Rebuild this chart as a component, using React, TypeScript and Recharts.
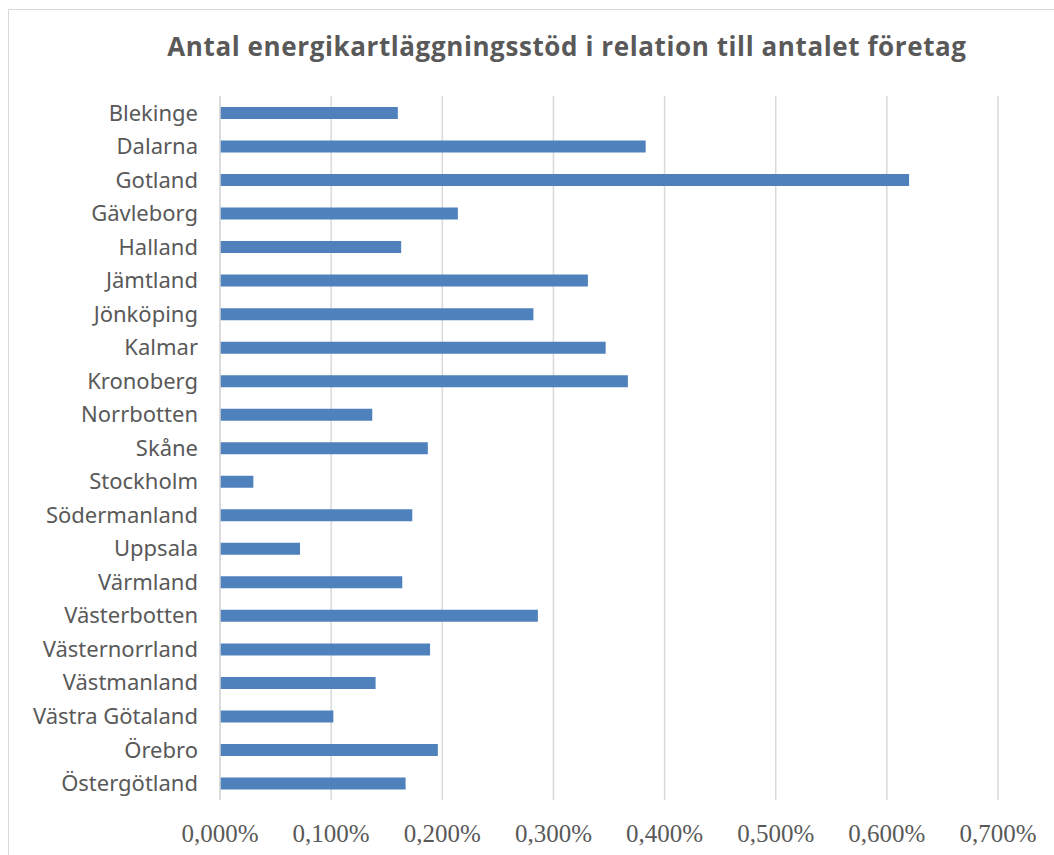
import { BarChart, Bar, XAxis, YAxis, CartesianGrid } from "recharts";

// län, in the order they appear top to bottom
const regions = [
  "Blekinge",
  "Dalarna",
  "Gotland",
  "Gävleborg",
  "Halland",
  "Jämtland",
  "Jönköping",
  "Kalmar",
  "Kronoberg",
  "Norrbotten",
  "Skåne",
  "Stockholm",
  "Södermanland",
  "Uppsala",
  "Värmland",
  "Västerbotten",
  "Västernorrland",
  "Västmanland",
  "Västra Götaland",
  "Örebro",
  "Östergötland",
];

// stöd per företag, in percent
const share = [
  0.16, 0.383, 0.62, 0.214, 0.163, 0.331, 0.282, 0.347, 0.367, 0.137, 0.187,
  0.03, 0.173, 0.072, 0.164, 0.286, 0.189, 0.14, 0.102, 0.196, 0.167,
];

const xTicks = [0, 0.1, 0.2, 0.3, 0.4, 0.5, 0.6, 0.7];

const chartData = regions.map((name, i) => ({ name, value: share[i] }));

const fmt = (v: number) => v.toFixed(3).replace(".", ",") + "%";

export default function App() {
  return (
    <div
      style={{
        position: "absolute",
        left: 0,
        top: 0,
        width: 1054,
        height: 855,
        overflow: "hidden",
        background: "#fff",
      }}
    >
      <div
        style={{
          position: "absolute",
          left: 8,
          top: 9,
          width: 1200,
          height: 1000,
          borderLeft: "1.5px solid #d9d9d9",
          borderTop: "1.5px solid #d9d9d9",
        }}
      />
      <div
        style={{
          position: "absolute",
          left: 0,
          top: 30,
          width: 1134,
          textAlign: "center",
          fontFamily: "'Open Sans'",
          fontWeight: "bold",
          fontSize: 26,
          letterSpacing: 0.6,
          lineHeight: "32px",
          color: "#595959",
        }}
      >
        Antal energikartläggningsstöd i relation till antalet företag
      </div>
      <div style={{ position: "absolute", left: 0, top: 0 }}>
        <BarChart
          width={1054}
          height={855}
          data={chartData}
          layout="vertical"
          margin={{ top: 96, right: 56, bottom: 5, left: 8 }}
        >
          <CartesianGrid horizontal={false} stroke="#d9d9d9" strokeWidth={1.5} />
          <XAxis
            type="number"
            domain={[0, 0.7]}
            ticks={xTicks}
            tickFormatter={fmt}
            axisLine={false}
            tickLine={false}
            tickSize={0}
            tickMargin={24}
            height={50}
            tick={{
              fill: "#595959",
              fontSize: 25,
              fontFamily: "'Liberation Serif'",
            }}
          />
          <YAxis
            type="category"
            dataKey="name"
            width={212}
            interval={0}
            axisLine={{ stroke: "#d9d9d9", strokeWidth: 1.5 }}
            tickLine={false}
            tickSize={0}
            tickMargin={22}
            tick={{ fill: "#595959", fontSize: 22, fontFamily: "'Noto Sans'" }}
          />
          <Bar
            dataKey="value"
            fill="#4f81bd"
            barSize={12}
            isAnimationActive={false}
          />
        </BarChart>
      </div>
    </div>
  );
}
